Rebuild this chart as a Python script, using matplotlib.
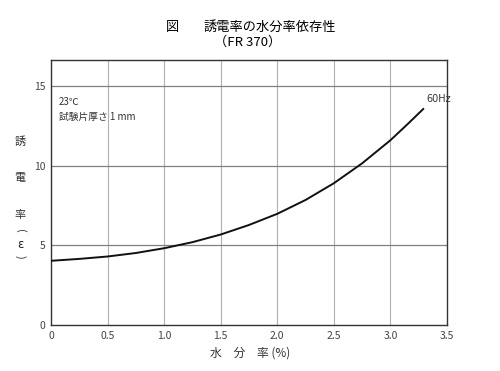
import matplotlib
matplotlib.use('Agg')
import matplotlib.pyplot as plt
import numpy as np

plt.rcParams['font.family'] = ['Noto Sans CJK JP', 'DejaVu Sans']

# water content (%) vs dielectric constant
moisture = [0, 0.25, 0.5, 0.75, 1.0, 1.25, 1.5, 1.75, 2.0, 2.25, 2.5, 2.75, 3.0, 3.15, 3.29]
epsilon = [4.03, 4.15, 4.3, 4.52, 4.82, 5.2, 5.68, 6.28, 6.98, 7.85, 8.9, 10.15, 11.6, 12.6, 13.56]

x_ticks = [0, 0.5, 1.0, 1.5, 2.0, 2.5, 3.0, 3.5]
x_tick_labels = ['0', '0.5', '1.0', '1.5', '2.0', '2.5', '3.0', '3.5']
y_ticks = [0, 5, 10, 15]
y_tick_labels = ['0', '5', '10', '15']

fig = plt.figure(figsize=(5.0, 3.71), dpi=100)
ax = fig.add_axes((0.102, 0.124, 0.792, 0.714))

ax.set_xlim(0, 3.5)
ax.set_ylim(0, 16.63)

for xv in x_ticks[1:-1]:
	ax.axvline(xv, color='#b0b0b0', lw=0.8, zorder=1)
for yv in y_ticks[1:]:
	ax.axhline(yv, color='#808080', lw=0.9, zorder=1)

ax.plot(moisture, epsilon, color='#111111', lw=1.4, zorder=3)

ax.set_xticks(x_ticks)
ax.set_xticklabels(x_tick_labels)
ax.set_yticks(y_ticks)
ax.set_yticklabels(y_tick_labels)
ax.tick_params(length=0, labelsize=7.5, labelcolor='#444444', pad=4)
for s in ax.spines.values():
	s.set_color('#333333')
	s.set_linewidth(1.0)

ax.text(3.32, 13.9, '60Hz', fontsize=7, color='#333333', ha='left', va='bottom', family='DejaVu Sans')
ax.text(0.07, 14.0, '23℃', fontsize=7, color='#333333', ha='left', va='center')
ax.text(0.07, 13.05, '試験片厚さ 1 mm', fontsize=7, color='#333333', ha='left', va='center')

# title
fig.text(172/500, 1 - 27/371, '図', fontsize=9.5, ha='center', va='center')
fig.text(270/500, 1 - 27/371, '誘電率の水分率依存性', fontsize=9.5, ha='center', va='center')
fig.text(248/500, 1 - 42/371, '（FR 370）', fontsize=9.5, ha='center', va='center')

# x label
fig.text(250/500, 1 - 353/371, '水　分　率 (%)', fontsize=8.5, color='#333333', ha='center', va='center')

# vertical y label
for ch, yy in [('誘', 142), ('電', 178), ('率', 215)]:
	fig.text(20/500, 1 - yy/371, ch, fontsize=8, color='#333333', ha='center', va='center')
fig.text(20/500, 1 - 231/371, '(', fontsize=8, color='#333333', ha='center', va='center', rotation=-90)
fig.text(20/500, 1 - 244/371, 'ε', fontsize=8.5, color='#222222', ha='center', va='center', family='DejaVu Sans')
fig.text(20/500, 1 - 257/371, ')', fontsize=8, color='#333333', ha='center', va='center', rotation=-90)

fig.savefig('out.png', dpi=100)
